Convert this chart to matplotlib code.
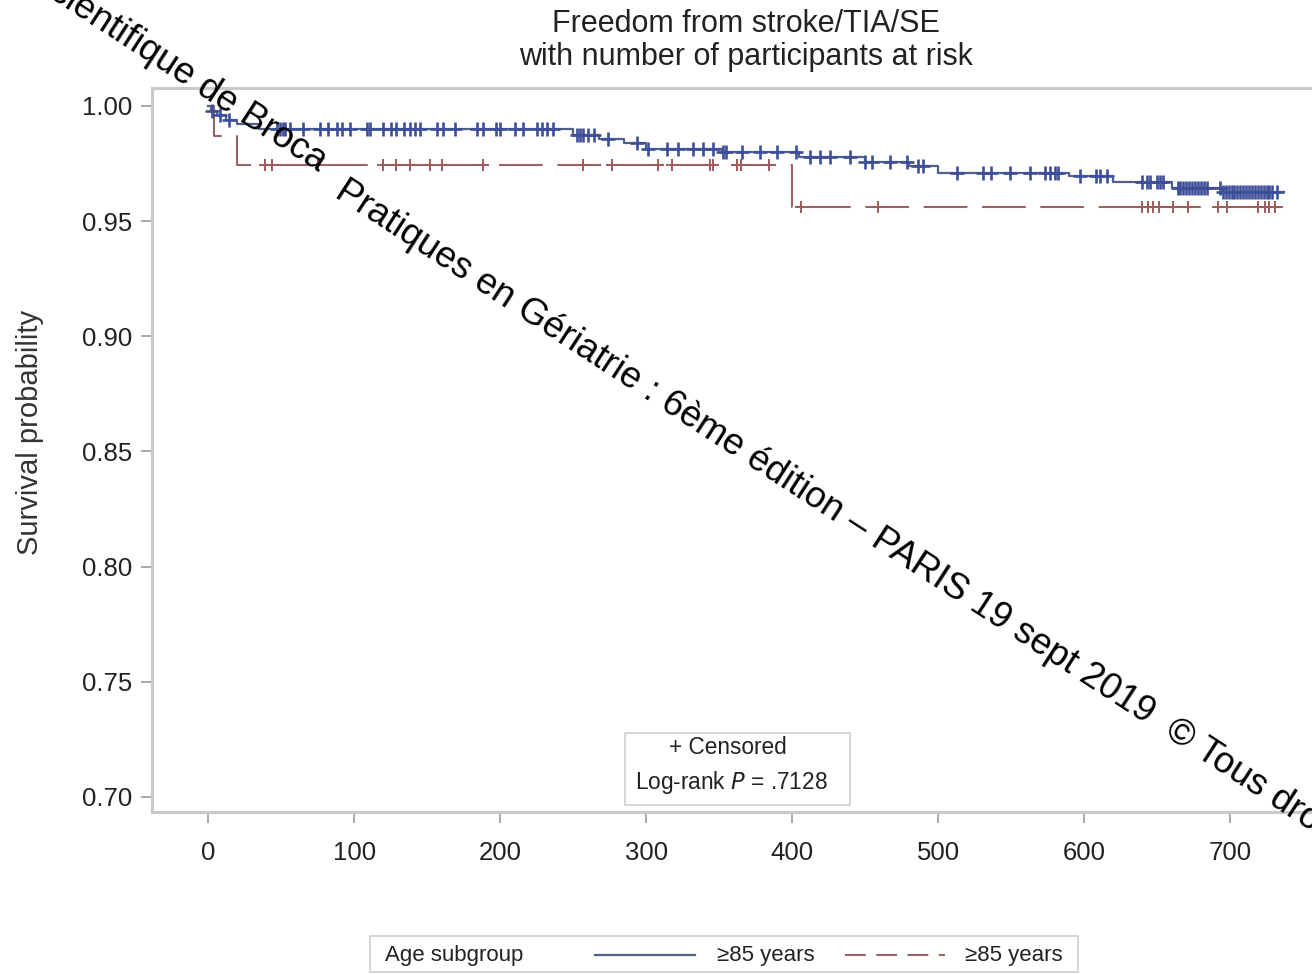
import numpy as np
import matplotlib
matplotlib.use("Agg")
import matplotlib.pyplot as plt
from matplotlib.lines import Line2D
from matplotlib.patches import Rectangle

plt.rcParams['font.family'] = ['Liberation Sans', 'DejaVu Sans']

# ---------------- data ----------------
title_lines = ["Freedom from stroke/TIA/SE", "with number of participants at risk"]
x_ticks = [0, 100, 200, 300, 400, 500, 600, 700]
y_ticks = [0.70, 0.75, 0.80, 0.85, 0.90, 0.95, 1.00]

# group 1 (solid) Kaplan-Meier steps
blue_t = [0, 2, 6, 12, 20, 35, 250, 268, 285, 300, 352, 405, 450, 480, 500, 590, 620, 660, 695]
blue_s = [1.0, 0.998, 0.996, 0.994, 0.992, 0.990, 0.9875, 0.9855, 0.984, 0.9815, 0.980,
          0.978, 0.9755, 0.974, 0.971, 0.9695, 0.967, 0.9645, 0.9625]
blue_end = 737
blue_cens = [3, 8, 14, 47, 49, 51, 53, 56, 65, 77, 82, 88, 92, 97, 109, 111, 120, 125, 129,
             134, 138, 142, 145, 157, 161, 169, 184, 188, 197, 200, 210, 216, 225, 229, 232,
             236, 253, 255, 257, 260, 264, 274, 294, 301, 314, 322, 332, 339, 346, 353, 355,
             366, 378, 390, 403, 412, 419, 426, 440, 450, 455, 467, 479, 486, 490, 513, 531,
             536, 549, 563, 573, 577, 580, 582, 597, 608, 611, 616, 640, 643, 645, 650, 652,
             654, 664, 666, 668, 670, 672, 674, 676, 678, 680, 682, 684, 693, 695, 697, 699,
             701, 703, 705, 707, 709, 711, 713, 715, 717, 719, 721, 723, 725, 727, 729, 732]

# group 2 (dashed)
red_t = [0, 4, 20, 400]
red_s = [1.0, 0.987, 0.9745, 0.956]
red_end = 736
red_cens = [39, 44, 75, 120, 129, 138, 152, 160, 188, 257, 277, 308, 318, 344, 346, 362,
            365, 384, 406, 459, 640, 644, 647, 651, 661, 671, 692, 698, 719, 724, 727, 731]

legend_title = "Age subgroup"
legend_labels = ["≥85 years", "≥85 years"]
stats_lines = ["+ Censored", "Log-rank $P$ = .7128"]
watermark_a = "Journée Scientifique de Broca"
watermark_b = "Pratiques en Gériatrie : 6ème édition – PARIS 19 sept 2019  © Tous droits réservés"

# ---------------- styles ----------------
W, H = 1312, 974
blue_line = "#4f6286"
blue_mark = "#3d4f99"
red_line = "#9a6464"
red_mark = "#a05a5a"
frame_col = "#c9c9c9"
txt_col = "#222222"

def fx(px):
    return px / W

def fy(py):
    return 1 - py / H

fig = plt.figure(figsize=(W / 100, H / 100), dpi=100)
ax = fig.add_axes([fx(152), fy(812), fx(1340) - fx(152), fy(88) - fy(812)])
ax.set_xlim(-38.4, 775.3)
ax.set_ylim(0.6934, 1.0078)


def km_curve(t, s, end):
    tt = list(t) + [end]
    ss = list(s) + [s[-1]]
    return tt, ss


def surv_at(t, s, times):
    idx = np.searchsorted(np.array(t), np.array(times), side='right') - 1
    return np.array(s)[idx]


bt, bs = km_curve(blue_t, blue_s, blue_end)
ax.step(bt, bs, where='post', color=blue_line, lw=1.6, zorder=3)
ax.plot(blue_cens, surv_at(blue_t, blue_s, blue_cens), ls='none', marker='+',
        ms=10, mew=1.9, color=blue_mark, zorder=4)

rt, rs = km_curve(red_t, red_s, red_end)
rl, = ax.step(rt, rs, where='post', color=red_line, lw=1.5, zorder=2)
rl.set_dashes((21, 7))
ax.plot(red_cens, surv_at(red_t, red_s, red_cens), ls='none', marker='+',
        ms=9, mew=1.4, color=red_mark, zorder=3)

ax.set_xticks(x_ticks)
ax.set_yticks(y_ticks)
ax.set_yticklabels([f"{v:.2f}" for v in y_ticks])
for sp in ax.spines.values():
    sp.set_color(frame_col)
    sp.set_linewidth(2.2)
ax.tick_params(axis='both', colors="#9a9a9a", labelcolor=txt_col, labelsize=18.5,
               length=8, width=1.2)
ax.tick_params(axis='x', pad=13)
ax.tick_params(axis='y', pad=6)

fig.text(fx(30), fy(432), "Survival probability", rotation=90, ha='center', va='center',
         fontsize=21, color="#333333")

fig.text(fx(746), fy(24), title_lines[0], ha='center', va='center', fontsize=22, color=txt_col)
fig.text(fx(746), fy(57), title_lines[1], ha='center', va='center', fontsize=22, color=txt_col)

# stats box
fig.patches.append(Rectangle((fx(625), fy(805)), fx(850) - fx(625), fy(733) - fy(805),
                             transform=fig.transFigure, fill=True, facecolor='white',
                             edgecolor="#d0d0d0", lw=1.2, zorder=5))
fig.text(fx(728), fy(748), stats_lines[0], ha='center', va='center', fontsize=16.3,
         color=txt_col, zorder=6)
fig.text(fx(731), fy(782), stats_lines[1], ha='center', va='center', fontsize=16.3,
         color=txt_col, zorder=6)

# bottom legend
fig.patches.append(Rectangle((fx(370), fy(972)), fx(1078) - fx(370), fy(936) - fy(972),
                             transform=fig.transFigure, fill=False,
                             edgecolor="#cfcfcf", lw=1.2))
fig.text(fx(385), fy(955), legend_title, ha='left', va='center', fontsize=16, color=txt_col)
fig.lines.append(Line2D([fx(595), fx(695)], [fy(955), fy(955)], transform=fig.transFigure,
                        color=blue_line, lw=1.6))
fig.text(fx(717), fy(955), legend_labels[0], ha='left', va='center', fontsize=16, color=txt_col)
dl = Line2D([fx(845), fx(945)], [fy(955), fy(955)], transform=fig.transFigure,
            color=red_line, lw=1.5)
dl.set_dashes((10, 5))
fig.lines.append(dl)
fig.text(fx(965), fy(955), legend_labels[1], ha='left', va='center', fontsize=16, color=txt_col)

# watermark
ang = -33
fig.text(fx(318), fy(172), watermark_a, ha='right', va='baseline', rotation=ang,
         rotation_mode='anchor', fontsize=26.5, color='black', zorder=10)
fig.text(fx(333), fy(196), watermark_b, ha='left', va='baseline', rotation=ang,
         rotation_mode='anchor', fontsize=26.5, color='black', zorder=10)

fig.savefig("out.png", dpi=100)
